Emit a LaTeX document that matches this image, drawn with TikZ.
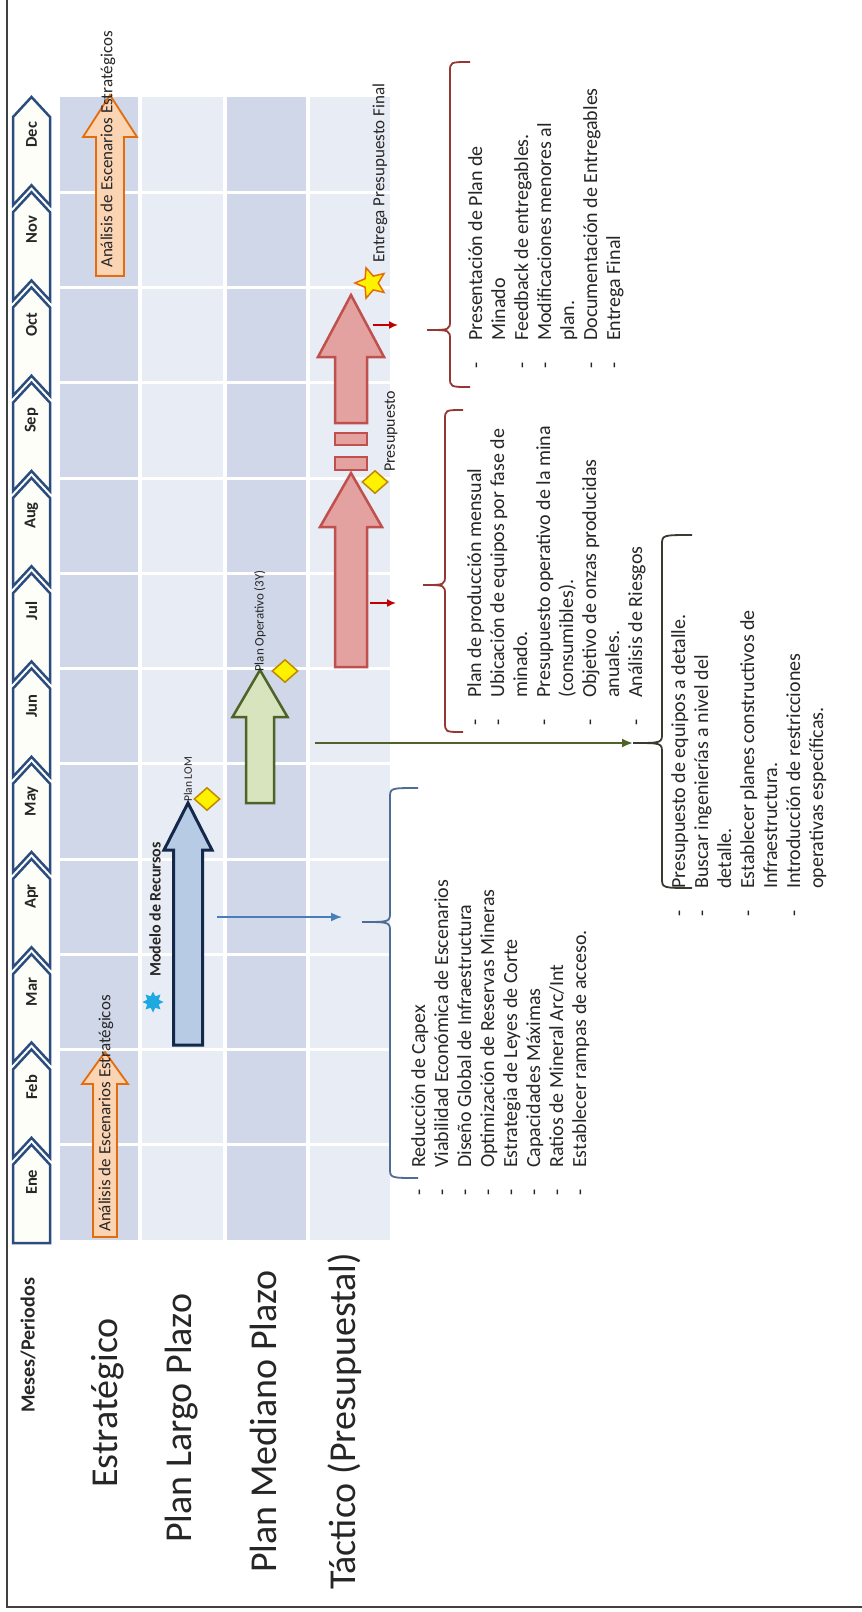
\documentclass[tikz,border=0pt]{standalone}
\usepackage{fontspec}
\setmainfont{Carlito}
\usetikzlibrary{arrows.meta,shapes,calc,positioning}
\definecolor{bandDark}{HTML}{CFD7E8}
\definecolor{bandLight}{HTML}{E8ECF4}
\definecolor{chevEdge}{HTML}{2B4D7E}
\definecolor{chevFill}{HTML}{FEFEF8}
\definecolor{orgEdge}{HTML}{E46C0A}
\definecolor{orgFill}{HTML}{FBD4B4}
\definecolor{lomEdge}{HTML}{14284B}
\definecolor{lomFill}{HTML}{B7CBE4}
\definecolor{opEdge}{HTML}{4F6228}
\definecolor{opFill}{HTML}{D7E4BD}
\definecolor{budEdge}{HTML}{C0504D}
\definecolor{budFill}{HTML}{E3A19F}
\definecolor{mileEdge}{HTML}{C08A00}
\definecolor{blueLine}{HTML}{4A7EBB}
\definecolor{redLine}{HTML}{C00000}
\definecolor{braceRed}{HTML}{953735}
\definecolor{braceBlue}{HTML}{4F6C94}
\definecolor{braceDark}{HTML}{3A3A30}
\definecolor{textGray}{HTML}{262626}
\tikzset{
    rowlabel/.style={
           rotate=90,
           anchor=west,
           inner sep=0pt,
           text=textGray,
           font=\fontsize{38}{40}\selectfont,
           },
    month/.style={
           rotate=90,
           inner sep=0pt,
           text=textGray,
           font=\bfseries\fontsize{16.5}{18}\selectfont,
           },
    tag/.style={
           rotate=90,
           anchor=west,
           inner sep=0pt,
           text=textGray,
           },
    milestone/.style={
           diamond,
           fill=yellow,
           draw=mileEdge,
           line width=1.5pt,
           minimum width=26pt,
           minimum height=23pt,
           inner sep=0pt,
           },
    bullets/.style={
           rotate=90,
           anchor=north west,
           inner sep=0pt,
           align=left,
           text=textGray,
           font=\fontsize{20}{23}\selectfont,
           },
    chev/.style={
           draw=chevEdge,
           fill=chevFill,
           line width=2.5pt,
           line join=miter,
           },
    pil/.style={
           -{Latex[length=11pt,width=9pt]},
           line width=1.6pt,
           },
}
\newcommand{\bul}{\strut\makebox[28pt][l]{-}}
\newcommand{\cont}{\strut\hspace*{28pt}}
% block arrow pointing up: style, centre x, bottom y, tip y, shaft half, head half, head length
\newcommand{\upblock}[7]{\draw[#1] ({#2-#5},#3) -- ({#2-#5},{#4+#7}) -- ({#2-#6},{#4+#7})
    -- (#2,#4) -- ({#2+#6},{#4+#7}) -- ({#2+#5},{#4+#7}) -- ({#2+#5},#3) -- cycle;}
% curly bracket: colour, x, top y, middle y, bottom y, tip, hook
\newcommand{\curly}[7]{\draw[#1,line width=1.8pt] ({#2+#7},#3) .. controls (#2,#3) .. (#2,{#3+10})
    -- (#2,{#4-10}) .. controls (#2,#4) .. ({#2-#6},#4) .. controls (#2,#4) .. (#2,{#4+10})
    -- (#2,{#5-10}) .. controls (#2,#5) .. ({#2+#7},#5);}

\begin{document}
\begin{tikzpicture}[x=1pt,y=-1pt]
\fill[white] (0,0) rectangle (862,1612);
\useasboundingbox (0,0) rectangle (862,1612);
% frame
\draw[black!75, line width=1.5pt] (7,0) -- (7,1607) -- (862,1607);

% BANDS
\fill[bandDark]  (60,97)  rectangle (138,1240);
\fill[bandLight] (142,97) rectangle (223,1240);
\fill[bandDark]  (227,97) rectangle (306,1240);
\fill[bandLight] (310,97) rectangle (390,1240);
\foreach \k in {1,...,11}
    \draw[white, line width=3pt] (60,{1240-95.25*\k}) -- (390,{1240-95.25*\k});

% MONTHS
\foreach \m [count=\i from 0] in {Ene,Feb,Mar,Apr,May,Jun,Jul,Aug,Sep,Oct,Nov,Dec} {
    \pgfmathsetmacro{\yb}{1240-95.25*\i}
    \pgfmathsetmacro{\yt}{\yb-95.25}
    \ifnum\i=0
        \draw[chev] (13,1243) -- (13,\yt+20) -- (31.5,\yt) -- (50,\yt+20) -- (50,1243) -- cycle;
    \else
        \draw[chev] (13,\yb+13) -- (13,\yt+20) -- (31.5,\yt) -- (50,\yt+20) -- (50,\yb+13) -- (31.5,\yb-7) -- cycle;
    \fi
    \node[month] (m\i) at (31.5,\yt+37.6) {\m};
}

% ROW LABELS
\node[rowlabel, font=\bfseries\fontsize{20}{22}\selectfont] (periods) at (28,1413) {Meses/Periodos};
\node[rowlabel] (estr) at (108,1488) {Estratégico};
\node[rowlabel] (largo) at (182,1543) {Plan Largo Plazo};
\node[rowlabel] (mediano) at (263,1573) {Plan Mediano Plazo};
\node[rowlabel] (tactico) at (345,1590) {Táctico (Presupuestal)};

% BLOCK ARROWS
\upblock{draw=orgEdge, fill=orgFill, line width=1.8pt}{110}{276}{95}{14}{27}{42}
\upblock{draw=orgEdge, fill=orgFill, line width=1.8pt}{105}{1237}{1052}{12}{23}{32}
\upblock{draw=lomEdge, fill=lomFill, line width=3pt}{188}{1045}{803}{14.5}{24}{47}
\upblock{draw=opEdge, fill=opFill, line width=2.5pt}{260}{803}{670}{14}{27.5}{47}
\upblock{draw=budEdge, fill=budFill, line width=2.5pt}{351}{667}{473}{16}{31}{54}
\upblock{draw=budEdge, fill=budFill, line width=2.5pt}{351}{423}{295}{16}{33}{62}
\draw[draw=budEdge, fill=budFill, line width=2.5pt] (335,433) rectangle (367,445);
\draw[draw=budEdge, fill=budFill, line width=2.5pt] (335,457) rectangle (367,470);

% LABELS ON THE TIMELINE
\node[tag, font=\fontsize{17}{19}\selectfont] (anaTop) at (108,268) {Análisis de Escenarios Estratégicos};
\node[tag, font=\fontsize{17}{19}\selectfont] (anaBot) at (106,1232) {Análisis de Escenarios Estratégicos};
\node[star, star points=8, star point ratio=1.7, fill={rgb,255:red,30;green,170;blue,225},
      minimum size=21pt, inner sep=0pt] (burst) at (153,1002) {};
\node[tag, font=\bfseries\fontsize{16}{18}\selectfont] (modelo) at (155,977) {Modelo de Recursos};
\node[milestone] (dLOM) at (207,799) {};
\node[tag, font=\fontsize{11.5}{13}\selectfont] (lomLbl) at (188,802) {Plan LOM};
\node[milestone] (dOP) at (285,671) {};
\node[tag, font=\fontsize{13}{15}\selectfont] (opLbl) at (260,672) {Plan Operativo (3Y)};
\node[milestone] (dBud) at (375,482) {};
\node[tag, font=\fontsize{16}{18}\selectfont] (budLbl) at (391,472) {Presupuesto};
\node[star, star points=5, star point ratio=2.2, rotate=90, fill=yellow, draw=orgEdge,
      line width=1.5pt, minimum size=32pt, inner sep=0pt] (final) at (371,283) {};
\node[tag, font=\fontsize{17}{19}\selectfont] (finLbl) at (380,263) {Entrega Presupuesto Final};

% BRACES
\curly{braceBlue}{390}{788}{922}{1178}{28}{28}
\curly{braceRed}{445}{410}{585}{732}{22}{18}
\curly{braceRed}{450}{62}{330}{387}{23}{20}
\curly{braceDark}{662}{535}{743}{888}{29}{30}

% CONNECTORS
\coordinate (lomOut) at (217,917);
\coordinate (braceAin) at (342,917);
\coordinate (opOut) at (315,743);
\coordinate (braceDtip) at (633,743);
\coordinate (budOut) at (370,603);
\coordinate (braceBin) at (396,603);
\coordinate (finOut) at (373,325);
\coordinate (braceCin) at (398,325);
\draw[pil, blueLine] (lomOut) -- (braceAin);
\draw[pil, opEdge, line width=2pt] (opOut) -- (braceDtip);
\draw[pil, redLine, -{Latex[length=9pt,width=8pt]}] (budOut) -- (braceBin);
\draw[pil, redLine, -{Latex[length=9pt,width=8pt]}] (finOut) -- (braceCin);

% LISTS
\node[bullets] (listA) at (408.7,1196) {\bul Reducción de Capex\\
\bul Viabilidad Económica de Escenarios\\
\bul Diseño Global de Infraestructura\\
\bul Optimización de Reservas Mineras\\
\bul Estrategia de Leyes de Corte\\
\bul Capacidades Máximas\\
\bul Ratios de Mineral Arc/Int\\
\bul Establecer rampas de acceso.};
\node[bullets] (listB) at (464.7,726) {\bul Plan de producción mensual\\
\bul Ubicación de equipos por fase de\\
\cont minado.\\
\bul Presupuesto operativo de la mina\\
\cont (consumibles).\\
\bul Objetivo de onzas producidas\\
\cont anuales.\\
\bul Análisis de Riesgos};
\node[bullets] (listC) at (465.7,369) {\bul Presentación de Plan de\\
\cont Minado\\
\bul Feedback de entregables.\\
\bul Modificaciones menores al\\
\cont plan.\\
\bul Documentación de Entregables\\
\bul Entrega Final};
\node[bullets] (listD) at (668.7,917) {\bul Presupuesto de equipos a detalle.\\
\bul Buscar ingenierías a nivel del\\
\cont detalle.\\
\bul Establecer planes constructivos de\\
\cont Infraestructura.\\
\bul Introducción de restricciones\\
\cont operativas específicas.};
\end{tikzpicture}
\end{document}
